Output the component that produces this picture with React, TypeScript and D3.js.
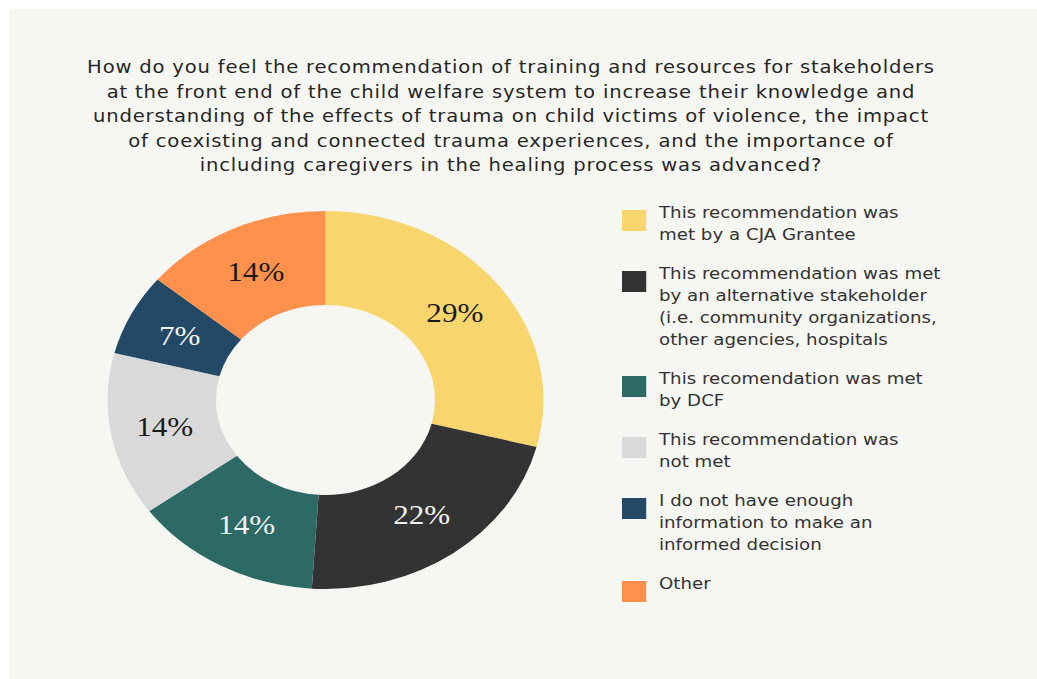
import React from 'react';
import * as d3 from 'd3';

const titleLines = [
  'How do you feel the recommendation of training and resources for stakeholders',
  'at the front end of the child welfare system to increase their knowledge and',
  'understanding of the effects of trauma on child victims of violence, the impact',
  'of coexisting and connected trauma experiences, and the importance of',
  'including caregivers in the healing process was advanced?',
];

const categories = [
  ['This recommendation was', 'met by a CJA Grantee'],
  ['This recommendation was met', 'by an alternative stakeholder', '(i.e. community organizations,', 'other agencies, hospitals'],
  ['This recomendation was met', 'by DCF'],
  ['This recommendation was', 'not met'],
  ['I do not have enough', 'information to make an', 'informed decision'],
  ['Other'],
];

const values = [29, 22, 14, 14, 7, 14];
const colors = ['#f9d56e', '#333333', '#2d6a65', '#d9d9d9', '#234966', '#ff914d'];
const labelColors = ['#1a1a1a', '#f4f4f4', '#eef4f2', '#1a1a1a', '#f4f4f4', '#1a1a1a'];

const W = 1037;
const H = 679;
const SX = 1.153;

export default function App() {
  const cx = 325.5 / SX;
  const cy = 400;
  const rOuter = 189;
  const rInner = 95;

  const pie = d3.pie<number>().sort(null).value((d) => d)(values);
  const arc = d3.arc<d3.PieArcDatum<number>>().innerRadius(rInner).outerRadius(rOuter);

  const legendX = 622 / SX;
  const legendTextX = 659 / SX;
  const lineH = 22;
  const gap = 17;
  const legendStart = 218;
  const baselines: number[] = [];
  let y = legendStart;
  categories.forEach((c) => {
    baselines.push(y);
    y += c.length * lineH + gap;
  });

  return (
    <svg
      width={W}
      height={H}
      style={{ position: 'absolute', left: 0, top: 0, display: 'block', background: '#ffffff' }}
    >
      <rect x={9} y={9} width={W - 9} height={H - 9} fill="#f6f6f2" />
      <g transform={`scale(${SX},1)`}>
        <g
          fontFamily="'DejaVu Sans', sans-serif"
          fontSize={17}
          letterSpacing={0.7}
          fill="#262626"
          textAnchor="middle"
        >
          {titleLines.map((t, i) => (
            <text key={i} x={511 / SX} y={73 + i * 24.6}>
              {t}
            </text>
          ))}
        </g>
        <g transform={`translate(${cx},${cy})`}>
          {pie.map((d, i) => (
            <path key={i} d={arc(d) || ''} fill={colors[i]} />
          ))}
          {pie.map((d, i) => {
            const [lx, ly] = arc.centroid(d);
            return (
              <text
                key={i}
                x={lx}
                y={ly}
                dy="0.35em"
                textAnchor="middle"
                fontFamily="'Liberation Serif', serif"
                fontSize={27}
                fill={labelColors[i]}
              >
                {`${values[i]}%`}
              </text>
            );
          })}
        </g>
        <g fontFamily="'DejaVu Sans', sans-serif" fontSize={15.8} fill="#333333">
          {categories.map((lines, i) => (
            <g key={i}>
              <rect x={legendX} y={baselines[i] - 8} width={21} height={21} fill={colors[i]} />
              {lines.map((l, j) => (
                <text key={j} x={legendTextX} y={baselines[i] + j * lineH}>
                  {l}
                </text>
              ))}
            </g>
          ))}
        </g>
      </g>
    </svg>
  );
}
